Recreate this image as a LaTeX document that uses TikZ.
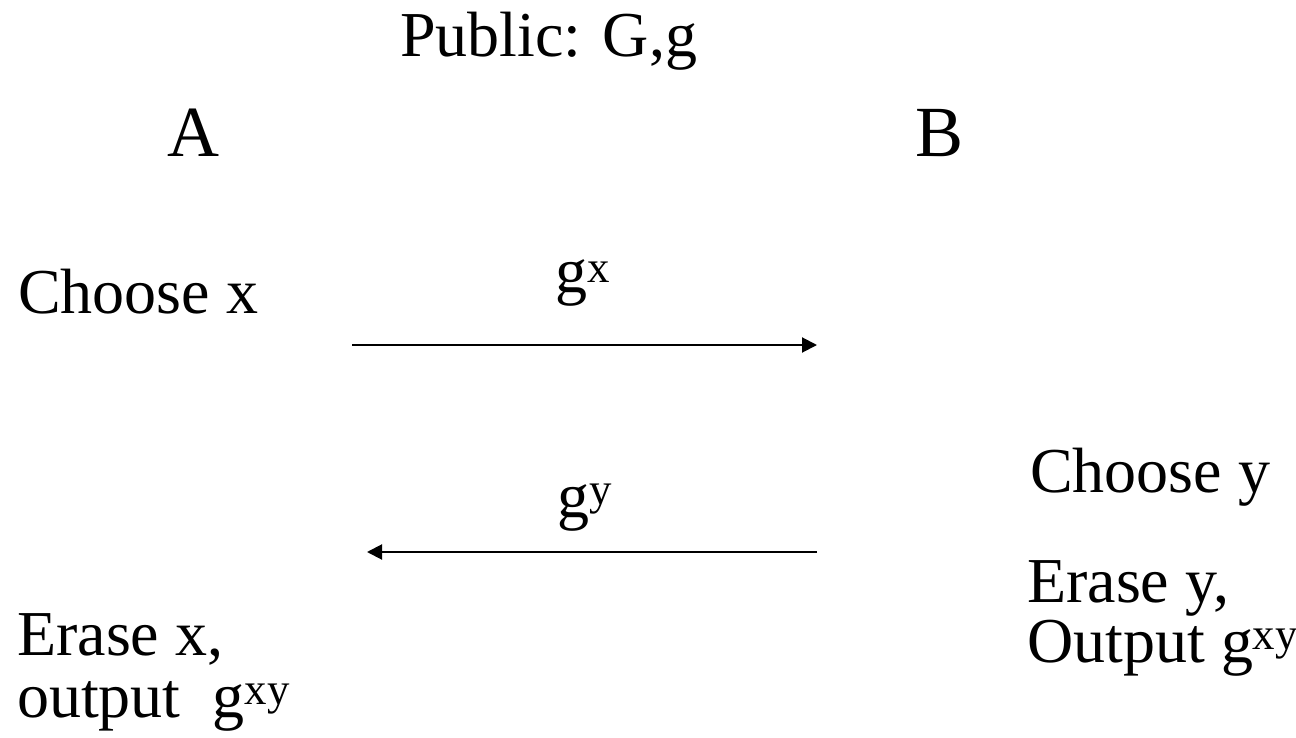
\documentclass[tikz,border=0pt]{standalone}
\usepackage{fontspec}
\setmainfont{Liberation Serif}
\usetikzlibrary{arrows.meta}
\begin{document}
\begin{tikzpicture}[x=1pt,y=-1pt,
  txt/.style={anchor=base west,inner sep=0pt,font=\fontsize{64}{70}\selectfont},
  party/.style={anchor=base,inner sep=0pt,font=\fontsize{72}{80}\selectfont},
  msg/.style={line width=2pt,-{Triangle[length=15pt,width=15pt]}}]
\useasboundingbox (0,0) rectangle (1296,738);
\node[txt] (pub) at (400,57) {Public: G,g};
\node[party] (A) at (193,157) {A};
\node[party] (B) at (940,157) {B};
\node[txt] (chx) at (18,313) {Choose x};
\node[txt] (gx) at (555,292) {g\textsuperscript{x}};
\coordinate (m1s) at (352,345);
\coordinate (m1e) at (817,345);
\draw[msg] (m1s) -- (m1e);
\node[txt] (chy) at (1030,492) {Choose y};
\node[txt] (gy) at (557,517) {g\textsuperscript{y}};
\coordinate (m2s) at (817,552);
\coordinate (m2e) at (367,552);
\draw[msg] (m2s) -- (m2e);
\node[txt] (ery) at (1027,602) {Erase y,};
\node[txt] (outb) at (1027,662) {Output g\textsuperscript{xy}};
\node[txt] (erx) at (17,655) {Erase x,};
\node[txt] (outa) at (17,717) {output\ \ g\textsuperscript{xy}};
\end{tikzpicture}
\end{document}
